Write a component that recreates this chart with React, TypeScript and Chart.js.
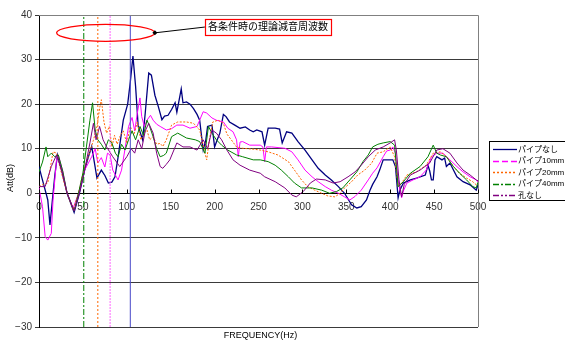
import React, { useEffect, useRef } from 'react';
import { Chart, registerables } from 'chart.js';

Chart.register(...registerables);

// ---- Data ----
const SERIES_NAMES = ['パイプなし', 'パイプ10mm', 'パイプ20mm', 'パイプ40mm', '孔なし'];

const F_NONE = [0, 3, 8, 10, 12.5, 15, 18, 21, 26, 32, 40, 46, 52, 56, 60, 63, 66, 71, 75, 79, 83, 86.5, 90, 96, 101, 104, 107, 110, 113, 118, 121, 125, 128, 132, 136, 140, 143, 147, 151, 155, 157, 162, 164, 168, 172, 176, 180, 183, 187, 190, 192, 197, 200, 203, 206, 210, 213, 217, 223, 229, 235, 240, 244, 248, 254, 257, 261, 269, 274, 277, 282, 288, 295, 303, 311, 318, 326, 333, 341, 348, 356, 362, 367, 373, 377, 380, 385, 388, 392, 396, 403, 406, 409, 411, 415, 423, 430, 440, 443, 445, 447, 449, 451, 453, 459, 462, 464, 468, 476, 483, 491, 498, 500];
const V_NONE = [6, 3.7, 0, -1.5, -7.1, -2, 4, 8.6, 5, 0, -4.3, 0, 5.2, 8, 10.5, 7, 3.4, 5.2, 4, 2.3, 2.5, 3.7, 8, 16.4, 20, 25, 30.8, 24, 15, 12, 18, 27, 26.5, 22, 19.4, 16.5, 17.3, 17.5, 18.8, 20.3, 18.2, 23.4, 20.3, 20.5, 20, 19, 17.7, 16.4, 9.7, 12, 15, 15.3, 10.4, 12, 13.5, 17.7, 17.2, 16, 15.3, 14.6, 14.9, 14.2, 13.8, 14.2, 13.8, 10.8, 14.6, 14.6, 14.4, 11.3, 13.8, 13.5, 11.6, 9.7, 7.5, 5.6, 4.1, 3, 1.5, 0, -2.6, -3.3, -3, -1.5, 0.7, 2, 3.7, 5.2, 7.5, 7.5, 7.5, 6, -1, 0.7, 2.3, 3, 3.4, 4.1, 6.3, 5, 3, 3, 7.5, 8.2, 7.5, 7.9, 6, 6.8, 3.7, 2.6, 1.9, 0.7, 1.9];

const F_10 = [0, 4, 7, 10, 14, 16, 20, 22, 27, 32, 39, 45, 52, 60, 64, 67, 71, 75, 78, 81, 84, 90, 94, 98, 102, 106, 109, 112, 115, 117, 120, 123, 127, 130, 134, 138, 145, 151, 157, 164, 172, 180, 187, 191, 197, 202, 210, 215, 221, 225, 227, 229, 232, 240, 252, 255, 257, 259, 265, 280, 288, 295, 303, 311, 318, 326, 333, 341, 348, 354, 360, 367, 375, 380, 385, 392, 396, 400, 403, 406, 409, 411, 413, 415, 419, 426, 434, 441, 447, 453, 460, 468, 476, 483, 491, 498, 500];
const V_10 = [1.2, -3, -9.7, -10.5, -9, -1.5, 7.5, 8.6, 5, 0, -3.3, 0, 5.2, 8.2, 10, 6.8, 8, 5.9, 9, 8.6, 5.2, 3, 5.2, 10, 15, 17, 14, 18, 21.4, 17.2, 15, 16.4, 17.5, 16.4, 15.5, 15, 14.2, 14.5, 15.3, 15.3, 14.6, 15, 18.3, 18, 16.9, 16.4, 16, 14.6, 13.8, 12, 8.2, 11.5, 11.6, 10.8, 10.8, 10.4, 7.1, 10.4, 10.4, 10.1, 9.3, 7.5, 5.2, 3.7, 2.6, 1.5, 0.7, 0, -0.8, -1.5, -0.7, 0.7, 3, 4.5, 5.7, 8.2, 9.5, 9.7, 10.4, 9, 3, 0.7, -1, 0.5, 2.3, 3, 3.7, 5.2, 8.2, 9, 9, 7.5, 6, 4.8, 3.7, 3, 2.5];

const F_20 = [0, 5, 10, 14, 16, 20, 25, 32, 39, 45, 50, 56, 62, 66, 69, 71, 74, 77, 80, 83, 86, 89, 92, 96, 100, 104, 108, 112, 116, 120, 123, 126, 130, 134, 138, 141, 145, 151, 158, 168, 176, 183, 189, 191, 194, 198, 204, 210, 214, 219, 225, 232, 244, 252, 261, 272, 284, 291, 299, 306, 314, 322, 329, 337, 343, 348, 356, 363, 371, 379, 385, 392, 400, 405, 409, 413, 419, 430, 441, 449, 457, 464, 472, 479, 487, 494, 498, 500];
const V_20 = [1.5, 2, 2.3, 7, 9.3, 9, 5, 0, -3.7, 0, 4.5, 8.2, 11.9, 15, 19, 21, 16, 13.5, 15, 10.4, 13, 11, 12.7, 14, 11.2, 15, 13, 16, 12, 13.5, 14.2, 12, 12.7, 11, 11.2, 10.5, 12, 15.3, 16, 16, 15.7, 14.2, 9, 7.5, 12, 16, 16.4, 15.7, 13.3, 12, 10.4, 10.1, 9.9, 9.7, 9.3, 8.6, 7.1, 5.2, 3, 1.5, 0.7, 0, -0.6, -0.8, 0, 1.2, 2.6, 4.1, 5.2, 6.8, 9, 9.3, 10.4, 8.2, 1.5, 2.3, 4.1, 4.8, 6.3, 9, 9.3, 8.2, 6, 4.5, 3.4, 2.6, 1.9, 2.2];

const F_40 = [0, 4, 8, 10, 14, 18, 22, 27, 32, 40, 45, 50, 54, 58, 61, 64, 67, 71, 75, 79, 83, 87, 90, 94, 98, 102, 106, 110, 115, 119, 123, 126, 130, 134, 138, 142, 145, 151, 158, 168, 178, 183, 189, 193, 197, 202, 208, 215, 225, 232, 244, 252, 261, 269, 276, 284, 291, 299, 311, 322, 331, 339, 346, 354, 362, 369, 375, 380, 386, 392, 400, 405, 409, 415, 423, 434, 443, 449, 453, 457, 464, 472, 479, 487, 494, 498, 500];
const V_40 = [4.8, 7, 10.4, 8.2, 9, 8.2, 8.6, 5, 0, -4, 0, 4.5, 10.4, 16.4, 20.3, 14.2, 12, 11, 9.7, 12, 11.3, 9, 8.2, 11, 9.7, 12, 14, 12, 15, 13, 16.4, 15, 12.7, 10, 8.2, 8.5, 9, 12.7, 13.5, 12.4, 12, 11.6, 9, 15, 13.5, 12, 10.8, 9.7, 8.6, 8.2, 7.5, 7.5, 7.1, 6.3, 5.2, 3.7, 2.3, 1.2, 1.2, 0.7, 0, 0.4, 1.2, 3, 4.8, 7.1, 8.6, 10.4, 11, 11.3, 11.6, 10.8, 1.5, 2.6, 4.5, 6, 8.2, 10.8, 9, 8.6, 8.2, 6, 4.5, 3, 1.5, 1.2, 2.5];

const F_NOHOLE = [0, 7, 14, 20, 26, 32, 40, 46, 52, 58, 62, 65, 69, 73, 77, 84, 92, 100, 105, 109, 113, 117, 121, 125, 130, 134, 138, 141, 145, 149, 157, 164, 172, 180, 187, 192, 197, 202, 208, 214, 221, 229, 240, 252, 257, 269, 280, 288, 293, 301, 309, 316, 326, 335, 343, 352, 360, 367, 375, 383, 392, 400, 405, 407, 410, 413, 416, 423, 434, 445, 453, 460, 468, 476, 483, 491, 498, 500];
const V_NOHOLE = [1.5, 1.5, 6, 8.6, 5, 0, -4, 0, 5.2, 11.3, 15.7, 12, 15, 12, 10.4, 8.2, 6, 8.2, 10, 9, 12, 10, 14, 15.7, 13.5, 9, 6, 5.6, 6.5, 7.5, 11.3, 10.4, 10.4, 9.7, 12, 10, 14.2, 13.5, 12, 9.7, 7.5, 6.3, 5.2, 4.5, 3.7, 2.6, 1.2, -0.4, -0.8, 0.4, 2.3, 3.2, 3, 2.3, 2.6, 3.7, 4.8, 6.3, 8.2, 9.7, 10.4, 11.3, 12, 9.7, 3, -0.8, 2, 4.1, 5.2, 6.8, 9.7, 10, 9, 6.8, 5.2, 4.1, 3, 2.8];

// Theoretical attenuation frequencies (vertical lines): パイプなし, 10mm, 20mm, 40mm
const THEORY_FREQ = [104, 81, 67, 51];

const X_MIN = 0, X_MAX = 500, X_STEP = 50;
const Y_MIN = -30, Y_MAX = 40, Y_STEP = 10;

const ANNOT_TEXT = '各条件時の理論減音周波数';
const X_TITLE = 'FREQUENCY(Hz)';
const Y_TITLE = 'Att(dB)';

// ---- Styles ----
const COLORS = ['#000080', '#FF00FF', '#FF6600', '#008000', '#800080'];
const LEGEND_DASH = [[], [6, 3], [2, 2], [6, 2, 2, 2], [6, 2, 2, 2, 2, 2]];
const LINE_DASH = [[], [], [2, 1.5], [], []];
const VLINE_COLORS = ['#4848C8', '#FF66FF', '#FF6600', '#008000'];
const VLINE_DASH = [[], [2, 1], [2, 2], [6, 2, 2, 2]];

const FONT = '"Liberation Sans", "Noto Sans CJK JP", Arial, sans-serif';

function zip(f: number[], v: number[]) {
  return f.map((x, i) => ({ x, y: v[i] }));
}

const decor = {
  id: 'decor',
  afterDraw(chart: any) {
    const { ctx, chartArea: a, scales } = chart;
    const x = scales.x, y = scales.y;
    ctx.save();
    // top & right border
    ctx.strokeStyle = '#808080';
    ctx.lineWidth = 1;
    ctx.setLineDash([]);
    const rx = Math.round(a.right) + 0.5;
    const ty = Math.round(a.top) + 0.5;
    ctx.beginPath();
    ctx.moveTo(a.left, ty);
    ctx.lineTo(rx, ty);
    ctx.lineTo(rx, a.bottom);
    ctx.stroke();
    // x tick marks (upward, inside)
    const y0 = Math.round(y.getPixelForValue(0)) + 0.5;
    ctx.strokeStyle = '#000';
    ctx.beginPath();
    for (const t of x.ticks) {
      const px = Math.round(x.getPixelForValue(t.value)) + 0.5;
      ctx.moveTo(px, y0);
      ctx.lineTo(px, y0 - 4);
    }
    ctx.stroke();

    // ellipse annotation
    const cx = x.getPixelForValue(76);
    const cy = y.getPixelForValue(36);
    const erx = x.getPixelForValue(132) - cx;
    const ery = y.getPixelForValue(34.1) - cy;
    ctx.strokeStyle = '#FF0000';
    ctx.lineWidth = 1.3;
    ctx.beginPath();
    ctx.ellipse(cx, cy, erx, ery, 0, 0, Math.PI * 2);
    ctx.stroke();

    // connector
    const bx = x.getPixelForValue(189);
    const by = y.getPixelForValue(37.3);
    ctx.strokeStyle = '#000';
    ctx.lineWidth = 1;
    ctx.beginPath();
    ctx.moveTo(cx + erx, cy);
    ctx.lineTo(bx, by);
    ctx.stroke();
    ctx.fillStyle = '#000';
    ctx.beginPath();
    ctx.moveTo(cx + erx - 2.5, cy);
    ctx.lineTo(cx + erx, cy - 2.5);
    ctx.lineTo(cx + erx + 2.5, cy);
    ctx.lineTo(cx + erx, cy + 2.5);
    ctx.closePath();
    ctx.fill();

    // text box
    ctx.font = `10px ${FONT}`;
    const tw = ctx.measureText(ANNOT_TEXT).width;
    const btop = y.getPixelForValue(39.1);
    const bbot = y.getPixelForValue(35.5);
    ctx.fillStyle = '#fff';
    ctx.fillRect(bx, btop, tw + 6, bbot - btop);
    ctx.strokeStyle = '#FF0000';
    ctx.lineWidth = 1.2;
    ctx.strokeRect(Math.round(bx) + 0.5, Math.round(btop) + 0.5, Math.round(tw + 6), Math.round(bbot - btop));
    ctx.fillStyle = '#000';
    ctx.textBaseline = 'middle';
    ctx.textAlign = 'left';
    ctx.fillText(ANNOT_TEXT, bx + 3, (btop + bbot) / 2 + 0.5);

    // axis titles
    ctx.font = `9px ${FONT}`;
    ctx.fillStyle = '#000';
    ctx.textAlign = 'center';
    ctx.fillText(X_TITLE, (a.left + a.right) / 2 + 2, 336);
    ctx.save();
    ctx.translate(11, 178);
    ctx.rotate(-Math.PI / 2);
    ctx.fillText(Y_TITLE, 0, 0);
    ctx.restore();

    // legend
    const lx = 489.5, ly = 141.5, lw = 80, lh = 59;
    ctx.fillStyle = '#fff';
    ctx.fillRect(lx, ly, lw, lh);
    ctx.strokeStyle = '#000';
    ctx.lineWidth = 1;
    ctx.setLineDash([]);
    ctx.strokeRect(lx, ly, lw, lh);
    ctx.font = `8px ${FONT}`;
    ctx.textAlign = 'left';
    ctx.textBaseline = 'middle';
    SERIES_NAMES.forEach((name, i) => {
      const yy = ly + 7.5 + i * 11.5;
      ctx.strokeStyle = COLORS[i];
      ctx.lineWidth = 1.3;
      ctx.setLineDash(LEGEND_DASH[i]);
      ctx.beginPath();
      ctx.moveTo(493, Math.round(yy) + 0.5);
      ctx.lineTo(517, Math.round(yy) + 0.5);
      ctx.stroke();
      ctx.setLineDash([]);
      ctx.fillStyle = '#000';
      ctx.fillText(name, 518, yy + 0.5);
    });
    ctx.restore();
  },
};

export default function App() {
  const ref = useRef<HTMLCanvasElement | null>(null);

  useEffect(() => {
    if (!ref.current) return;
    const seriesF = [F_NONE, F_10, F_20, F_40, F_NOHOLE];
    const seriesV = [V_NONE, V_10, V_20, V_40, V_NOHOLE];
    const datasets: any[] = [];
    THEORY_FREQ.forEach((f, i) => {
      datasets.push({
        label: 'theory-' + i,
        data: [{ x: f, y: Y_MIN }, { x: f, y: Y_MAX }],
        borderColor: VLINE_COLORS[i],
        borderWidth: 1,
        borderDash: VLINE_DASH[i],
        pointRadius: 0,
        fill: false,
      });
    });
    SERIES_NAMES.forEach((name, i) => {
      datasets.push({
        label: name,
        data: zip(seriesF[i], seriesV[i]),
        borderColor: COLORS[i],
        borderWidth: i === 0 ? 1.3 : 1,
        borderDash: LINE_DASH[i],
        pointRadius: 0,
        tension: 0,
        fill: false,
      });
    });
    const ordered = [...datasets.slice(0, 4), ...datasets.slice(4).reverse()];

    const chart = new Chart(ref.current, {
      type: 'line',
      data: { datasets: ordered },
      options: {
        animation: false,
        responsive: false,
        maintainAspectRatio: false,
        layout: { padding: { left: 0, right: 87, top: 15, bottom: 16 } },
        plugins: { legend: { display: false }, tooltip: { enabled: false }, title: { display: false } },
        scales: {
          x: {
            type: 'linear',
            min: X_MIN,
            max: X_MAX,
            position: { y: 0 } as any,
            grid: { display: false },
            border: { display: true, color: '#000', width: 1 },
            ticks: {
              stepSize: X_STEP,
              color: '#333',
              font: { family: FONT, size: 10 },
              padding: 0,
              maxRotation: 0,
              autoSkip: false,
            },
          },
          y: {
            type: 'linear',
            min: Y_MIN,
            max: Y_MAX,
            grid: { color: '#3a3a3a', lineWidth: 1, tickLength: 4, drawTicks: true },
            border: { display: true, color: '#000', width: 1 },
            ticks: {
              stepSize: Y_STEP,
              color: '#333',
              font: { family: FONT, size: 10 },
              padding: 3,
              callback: (v: any) => String(v).replace('-', '\u2212'),
            },
            afterFit: (s: any) => { s.width = 39; },
          },
        },
      },
      plugins: [decor],
    });
    return () => chart.destroy();
  }, []);

  return (
    <div style={{ position: 'fixed', left: 0, top: 0, width: 565, height: 343, background: '#fff' }}>
      <canvas ref={ref} width={565} height={343} style={{ width: 565, height: 343, display: 'block' }} />
    </div>
  );
}
